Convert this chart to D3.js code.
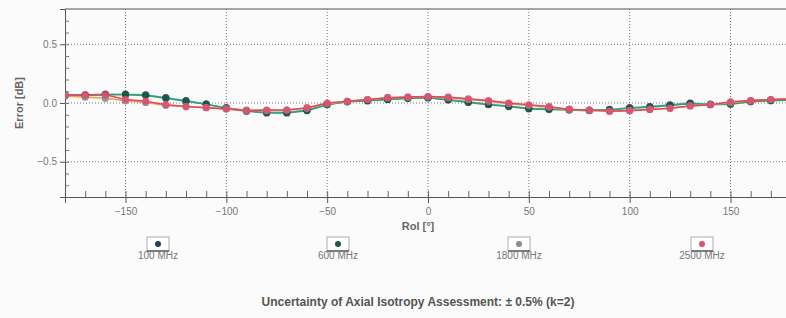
<!DOCTYPE html>
<html>
<head>
<meta charset="utf-8">
<script src="https://cdn.jsdelivr.net/npm/d3@7"></script>
<style>
body { margin: 0; background: #fbfbfb; }
svg { display: block; font-family: "Liberation Sans", Arial, sans-serif; }
</style>
</head>
<body>
<div id="chart"></div>
<script>
var w = 786, h = 318;

// data
var angles = d3.range(-180, 181, 10);
var seriesNames = ["100 MHz", "600 MHz", "1800 MHz", "2500 MHz"];
var err100 = [0.07,0.07,0.075,0.075,0.07,0.045,0.02,-0.01,-0.04,-0.065,-0.08,-0.08,-0.06,-0.01,0.01,0.02,0.03,0.04,0.045,0.03,0.01,-0.01,-0.025,-0.045,-0.05,-0.055,-0.06,-0.055,-0.04,-0.03,-0.015,0.0,-0.01,-0.005,0.015,0.025,0.03];
var err600 = [0.06,0.065,0.07,0.07,0.065,0.04,0.015,-0.01,-0.045,-0.07,-0.085,-0.085,-0.065,-0.015,0.01,0.02,0.03,0.04,0.045,0.025,0.005,-0.015,-0.03,-0.05,-0.055,-0.06,-0.065,-0.06,-0.045,-0.035,-0.02,-0.005,-0.015,-0.01,0.01,0.02,0.025];
var err1800 = [0.06,0.05,0.04,0.02,0.005,-0.02,-0.03,-0.04,-0.05,-0.06,-0.065,-0.06,-0.045,-0.005,0.015,0.03,0.045,0.05,0.055,0.045,0.03,0.015,-0.005,-0.02,-0.035,-0.055,-0.06,-0.07,-0.065,-0.055,-0.045,-0.025,-0.015,0.005,0.02,0.03,0.035];
var err2500 = [0.065,0.07,0.07,0.03,0.015,-0.015,-0.03,-0.04,-0.05,-0.065,-0.06,-0.06,-0.04,0.0,0.015,0.03,0.045,0.05,0.055,0.05,0.035,0.02,0.0,-0.015,-0.03,-0.055,-0.06,-0.07,-0.065,-0.055,-0.045,-0.025,-0.015,0.01,0.02,0.03,0.035];
var xTicks = [-150, -100, -50, 0, 50, 100, 150];
var yTicks = [-0.5, 0.0, 0.5];

var lineColors = ["#45b8d2", "#3c9c6c", "#f0a545", "#e2475c"];
var dotColors = ["#223f5c", "#1c5846", "#8c8c8c", "#e04f72"];
var allErr = [err100, err600, err1800, err2500];

var x = d3.scaleLinear().domain([-180, 180]).range([65, 791]);
var y = d3.scaleLinear().domain([-0.8, 0.8]).range([197, 9]);

var svg = d3.select("#chart").append("svg")
  .attr("width", w).attr("height", h);

svg.append("clipPath").attr("id", "plotclip")
  .append("rect").attr("x", 65).attr("y", 9).attr("width", 726).attr("height", 188);

// grid
svg.selectAll(".xgrid").data(xTicks).enter().append("line")
  .attr("x1", function(d) { return x(d); }).attr("x2", function(d) { return x(d); })
  .attr("y1", 9).attr("y2", 197)
  .attr("stroke", "#777").attr("stroke-width", 1).attr("stroke-dasharray", "1,2");
svg.selectAll(".ygrid").data(yTicks).enter().append("line")
  .attr("x1", 65).attr("x2", 791)
  .attr("y1", function(d) { return y(d); }).attr("y2", function(d) { return y(d); })
  .attr("stroke", "#777").attr("stroke-width", 1).attr("stroke-dasharray", "1,2");

// axes
var xAxis = d3.axisBottom(x).tickValues(xTicks).tickSize(6).tickFormat(d3.format("d"));
var gx = svg.append("g").attr("transform", "translate(0,197)").call(xAxis);
gx.select(".domain").attr("stroke", "#555");
gx.selectAll("line").attr("stroke", "#555");
gx.selectAll("text").attr("fill", "#777").attr("font-size", 10).attr("dy", "0.9em");

var xMinor = d3.axisTop(x).tickValues(d3.range(-170, 180, 10)).tickSize(6).tickFormat("");
var gxm = svg.append("g").attr("transform", "translate(0,197)").call(xMinor);
gxm.select(".domain").remove();
gxm.selectAll("line").attr("stroke", "#666");

var yAxis = d3.axisLeft(y).tickValues(yTicks).tickSize(5).tickFormat(d3.format(".1f"));
var gy = svg.append("g").attr("transform", "translate(65,0)").call(yAxis);
gy.select(".domain").attr("stroke", "#555");
gy.selectAll("line").attr("stroke", "#555");
gy.selectAll("text").attr("fill", "#777").attr("font-size", 10);

var yMinor = d3.axisRight(y).tickValues(d3.range(-0.7, 0.75, 0.1)).tickSize(4).tickFormat("");
var gym = svg.append("g").attr("transform", "translate(65,0)").call(yMinor);
gym.select(".domain").remove();
gym.selectAll("line").attr("stroke", "#777");

// top border
svg.append("line").attr("x1", 65).attr("x2", 791).attr("y1", 9).attr("y2", 9)
  .attr("stroke", "#555").attr("stroke-width", 1.2);

// lines and points
var line = d3.line()
  .x(function(d, i) { return x(angles[i]); })
  .y(function(d) { return y(d); });

var plot = svg.append("g").attr("clip-path", "url(#plotclip)");
allErr.forEach(function(vals, k) {
  plot.append("path").datum(vals)
    .attr("d", line)
    .attr("fill", "none")
    .attr("stroke", lineColors[k])
    .attr("stroke-width", 1.6);
});
allErr.forEach(function(vals, k) {
  plot.selectAll(".pt" + k).data(vals).enter().append("circle")
    .attr("class", "pt" + k)
    .attr("cx", function(d, i) { return x(angles[i]); })
    .attr("cy", function(d) { return y(d); })
    .attr("r", 3.6)
    .attr("fill", dotColors[k])
    .attr("opacity", 0.9);
});

// axis titles
svg.append("text")
  .attr("x", 418).attr("y", 230)
  .attr("text-anchor", "middle")
  .attr("font-size", 11).attr("font-weight", "bold").attr("fill", "#666")
  .text("Rol [°]");

svg.append("text")
  .attr("transform", "translate(23,103) rotate(-90)")
  .attr("text-anchor", "middle")
  .attr("font-size", 11).attr("font-weight", "bold").attr("fill", "#666")
  .text("Error [dB]");

// legend
var legendX = [158, 338, 519, 702];
var leg = svg.selectAll(".leg").data(seriesNames).enter().append("g")
  .attr("class", "leg")
  .attr("transform", function(d, i) { return "translate(" + legendX[i] + ",0)"; });
leg.append("rect")
  .attr("x", -11).attr("y", 237).attr("width", 22).attr("height", 14)
  .attr("fill", "#fff").attr("stroke", "#999").attr("stroke-width", 0.8);
leg.append("line")
  .attr("x1", -11).attr("x2", 11).attr("y1", 251).attr("y2", 251)
  .attr("stroke", "#444").attr("stroke-width", 1.2);
leg.append("circle")
  .attr("cx", 0).attr("cy", 244).attr("r", 3)
  .attr("fill", function(d, i) { return dotColors[i]; });
leg.append("text")
  .attr("x", 0).attr("y", 259)
  .attr("text-anchor", "middle")
  .attr("font-size", 10).attr("fill", "#777")
  .text(function(d) { return d; });

// caption
svg.append("text")
  .attr("x", 418).attr("y", 306)
  .attr("text-anchor", "middle")
  .attr("font-size", 12).attr("font-weight", "bold").attr("fill", "#555")
  .text("Uncertainty of Axial Isotropy Assessment: ± 0.5% (k=2)");
</script>
</body>
</html>
